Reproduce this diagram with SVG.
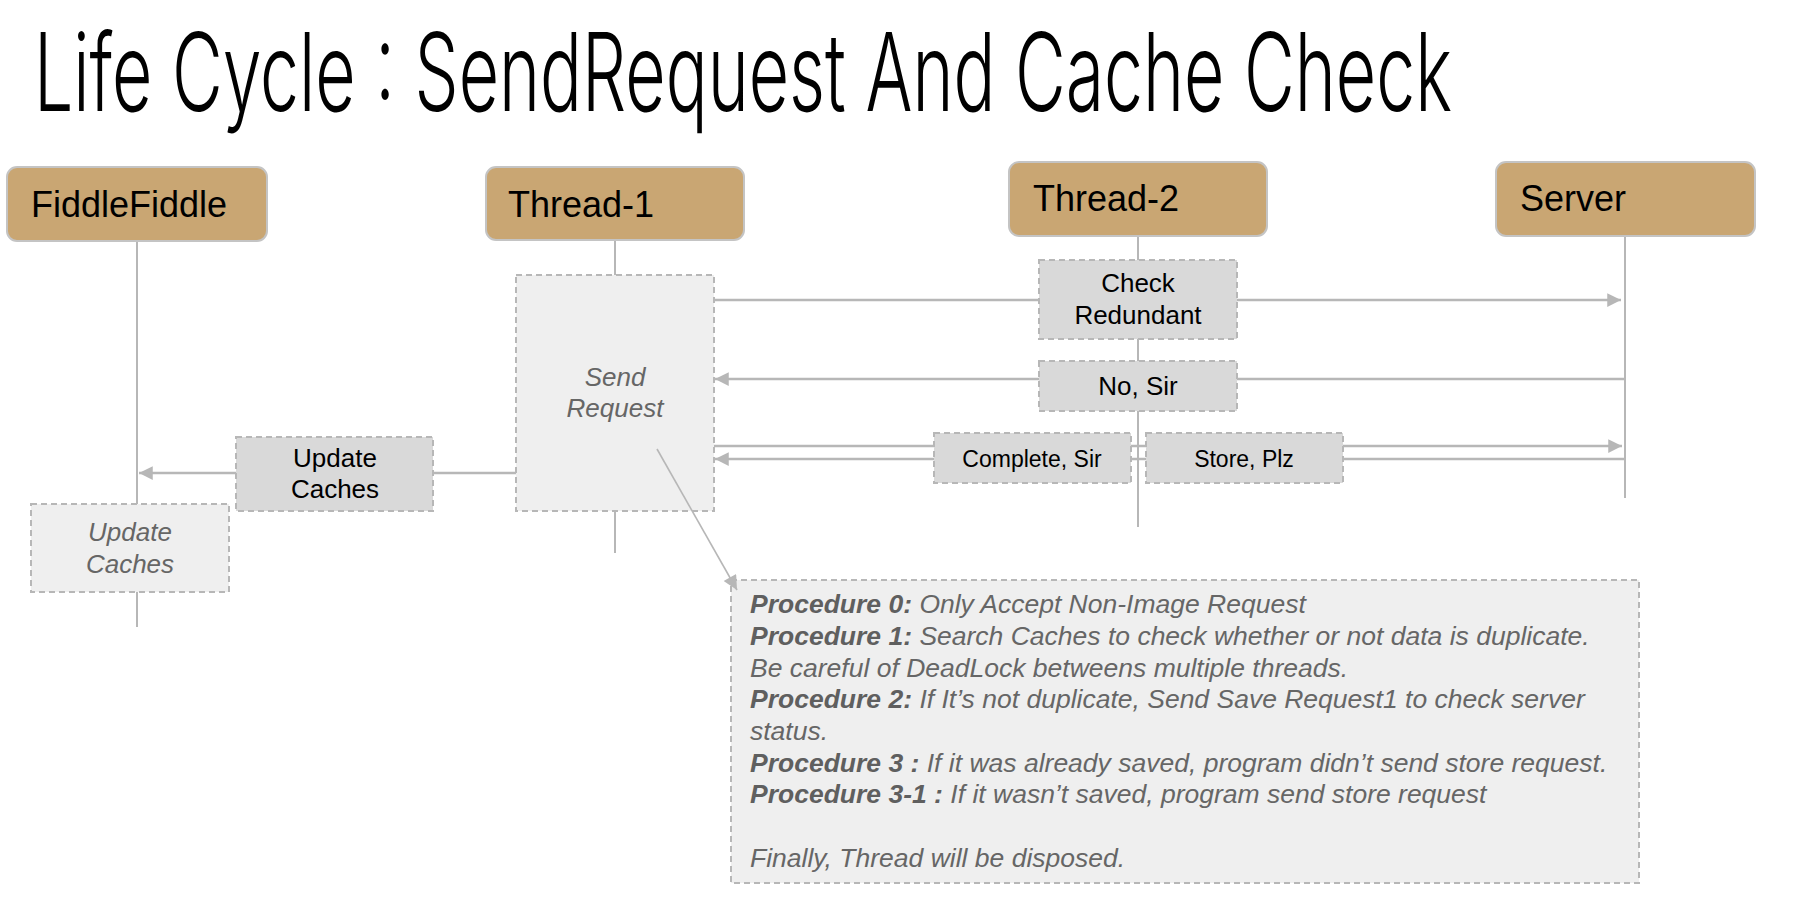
<svg xmlns="http://www.w3.org/2000/svg" width="1798" height="910" viewBox="0 0 1798 910">
<style>
.hdr{fill:#c9a673;stroke:#c4c4c4;stroke-width:2}
.hdrt{font-family:"Liberation Sans",Arial,sans-serif;font-size:36px;fill:#000}
.act{fill:#efefef;stroke:#b7b7b7;stroke-width:2;stroke-dasharray:6 4}
.lbl{fill:#d9d9d9;stroke:#b7b7b7;stroke-width:2;stroke-dasharray:6 4}
.life{stroke:#b7b7b7;stroke-width:2;fill:none}
.msg{stroke:#b7b7b7;stroke-width:2.5;fill:none}
.t{font-family:"Liberation Sans",Arial,sans-serif;font-size:26px;fill:#000;text-anchor:middle}
.ts{font-family:"Liberation Sans",Arial,sans-serif;font-size:23px;fill:#000;text-anchor:middle}
.ti{font-family:"Liberation Sans",Arial,sans-serif;font-size:26px;font-style:italic;fill:#666;text-anchor:middle}
.p{font-family:"Liberation Sans",Arial,sans-serif;font-size:26.5px;font-style:italic;fill:#666}
.b{font-weight:bold;fill:#5f5f5f}
</style>
<defs>
<marker id="ah" viewBox="0 0 10 10" refX="10" refY="5" markerWidth="7" markerHeight="5.5" markerUnits="strokeWidth" orient="auto">
<path d="M0,0 L10,5 L0,10 z" fill="#b7b7b7"/>
</marker>
<marker id="ah2" viewBox="0 0 10 10" refX="10" refY="5" markerWidth="12" markerHeight="9" markerUnits="strokeWidth" orient="auto">
<path d="M0,0 L10,5 L0,10 z" fill="#b7b7b7"/>
</marker>
</defs>
<rect width="1798" height="910" fill="#fff"/>
<text x="34" y="111" font-family="Inter, 'DejaVu Sans', sans-serif" font-weight="300" font-size="108" textLength="1418" lengthAdjust="spacingAndGlyphs" fill="#000">Life Cycle : SendRequest And Cache Check</text>

<g id="lifelines">
<line class="life" x1="137" y1="241" x2="137" y2="504"/>
<line class="life" x1="137" y1="592" x2="137" y2="627"/>
<line class="life" x1="615" y1="240" x2="615" y2="275"/>
<line class="life" x1="615" y1="511" x2="615" y2="553"/>
<line class="life" x1="1138" y1="236" x2="1138" y2="527"/>
<line class="life" x1="1625" y1="236" x2="1625" y2="498"/>
</g>

<g id="connectors">
<line class="msg" x1="714" y1="300" x2="1621" y2="300" marker-end="url(#ah)"/>
<line class="msg" x1="1625" y1="379" x2="715" y2="379" marker-end="url(#ah)"/>
<line class="msg" x1="714" y1="446" x2="1622" y2="446" marker-end="url(#ah)"/>
<line class="msg" x1="1625" y1="459" x2="715" y2="459" marker-end="url(#ah)"/>
<line class="msg" x1="516" y1="473" x2="139" y2="473" marker-end="url(#ah)"/>
</g>

<g id="node-fiddlefiddle">
<rect class="hdr" x="7" y="167" width="260" height="74" rx="10"/>
<text class="hdrt" x="31" y="217">FiddleFiddle</text>
</g>
<g id="node-thread1">
<rect class="hdr" x="486" y="167" width="258" height="73" rx="10"/>
<text class="hdrt" x="508" y="217">Thread-1</text>
</g>
<g id="node-thread2">
<rect class="hdr" x="1009" y="162" width="258" height="74" rx="10"/>
<text class="hdrt" x="1033" y="211">Thread-2</text>
</g>
<g id="node-server">
<rect class="hdr" x="1496" y="162" width="259" height="74" rx="10"/>
<text class="hdrt" x="1520" y="211">Server</text>
</g>

<g id="node-send-request">
<rect class="act" x="516" y="275" width="198" height="236"/>
<text class="ti" x="615" y="386">Send</text>
<text class="ti" x="615" y="417">Request</text>
</g>
<g id="node-update-caches-act">
<rect class="act" x="31" y="504" width="198" height="88"/>
<text class="ti" x="130" y="541">Update</text>
<text class="ti" x="130" y="573">Caches</text>
</g>
<g id="node-update-caches">
<rect class="lbl" x="236" y="437" width="197" height="74"/>
<text class="t" x="335" y="467">Update</text>
<text class="t" x="335" y="498">Caches</text>
</g>
<g id="node-check-redundant">
<rect class="lbl" x="1039" y="260" width="198" height="79"/>
<text class="t" x="1138" y="292">Check</text>
<text class="t" x="1138" y="324">Redundant</text>
</g>
<g id="node-no-sir">
<rect class="lbl" x="1039" y="361" width="198" height="50"/>
<text class="t" x="1138" y="395">No, Sir</text>
</g>
<g id="node-complete-sir">
<rect class="lbl" x="934" y="433" width="197" height="50"/>
<text class="ts" x="1032" y="467">Complete, Sir</text>
</g>
<g id="node-store-plz">
<rect class="lbl" x="1146" y="433" width="197" height="50"/>
<text class="ts" x="1244" y="467">Store, Plz</text>
</g>

<g id="node-procedures">
<rect class="act" x="731" y="580" width="908" height="303"/>
<text class="p" x="750" y="613"><tspan class="b">Procedure 0:</tspan> Only Accept Non-Image Request</text>
<text class="p" x="750" y="645"><tspan class="b">Procedure 1:</tspan> Search Caches to check whether or not data is duplicate.</text>
<text class="p" x="750" y="677">Be careful of DeadLock betweens multiple threads.</text>
<text class="p" x="750" y="708"><tspan class="b">Procedure 2:</tspan> If It’s not duplicate, Send Save Request1 to check server</text>
<text class="p" x="750" y="740">status.</text>
<text class="p" x="750" y="772"><tspan class="b">Procedure 3 :</tspan> If it was already saved, program didn’t send store request.</text>
<text class="p" x="750" y="803"><tspan class="b">Procedure 3-1 :</tspan> If it wasn’t saved, program send store request</text>
<text class="p" x="750" y="867">Finally, Thread will be disposed.</text>
</g>

<g id="note-connector">
<line stroke="#b7b7b7" stroke-width="1.6" x1="657" y1="449" x2="737" y2="590" marker-end="url(#ah2)"/>
</g>
</svg>
